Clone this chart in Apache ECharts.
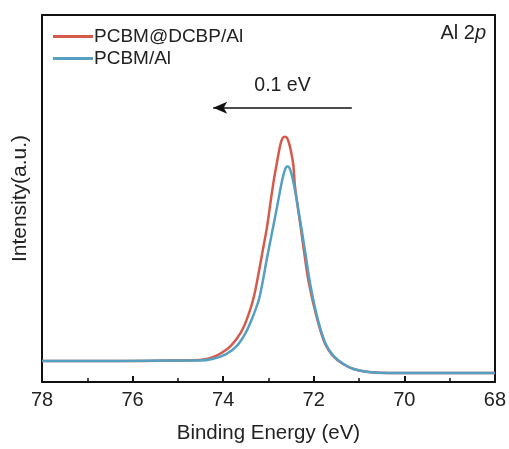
<!DOCTYPE html>
<html>
<head>
<meta charset="utf-8">
<script src="https://cdn.jsdelivr.net/npm/echarts@6/dist/echarts.min.js"></script>
<style>html,body{margin:0;padding:0;background:#fff}#c{width:509px;height:449px}</style>
</head>
<body>
<div id="c"></div>
<script>
var xTicks = [78, 76, 74, 72, 70, 68];
var seriesNames = ['PCBM@DCBP/Al', 'PCBM/Al'];
var redEnergy = [78.000,76.286,75.187,74.527,74.242,74.022,73.824,73.604,73.451,73.319,73.209,73.121,73.033,72.945,72.879,72.813,72.769,72.725,72.681,72.637,72.593,72.549,72.505,72.451,72.418,72.363,72.297,72.220,72.110,71.923,71.747,71.571,71.352,71.121,70.791,70.352,68.000];
var redValue  = [5.71,5.71,5.84,5.98,6.66,8.02,9.92,13.59,17.93,23.37,30.16,36.14,42.12,49.73,55.16,59.78,62.77,65.22,66.58,66.85,66.58,65.22,63.04,59.24,53.80,48.64,42.93,36.14,27.17,17.12,10.33,7.07,4.89,3.53,2.72,2.45,2.45];
var blueEnergy = [78.000,76.286,75.187,74.527,74.242,73.934,73.692,73.495,73.341,73.209,73.121,73.033,72.923,72.835,72.769,72.703,72.648,72.593,72.549,72.505,72.462,72.396,72.330,72.264,72.187,72.077,71.912,71.736,71.560,71.341,71.121,70.791,70.352,68.000];
var blueValue  = [5.71,5.71,5.84,5.84,6.25,7.61,9.92,13.59,17.93,22.55,27.72,33.70,40.60,46.10,50.40,54.62,57.34,58.70,58.56,57.34,55.16,51.09,46.20,41.30,35.33,26.63,17.12,10.33,7.07,4.89,3.53,2.72,2.45,2.45];
var shiftArrow = {from: 71.16, to: 74.22, level: 74.7, label: '0.1 eV'};

function pairs(a, b) { return a.map(function (v, i) { return [v, b[i]]; }); }

var FONT = 'Liberation Sans, Arial, sans-serif';
var chart = echarts.init(document.getElementById('c'));
chart.setOption({
  animation: false,
  grid: {left: 42, right: 12, top: 15, bottom: 66},
  legend: {
    orient: 'vertical', left: 48, top: 22, itemWidth: 40, itemHeight: 3, itemGap: 3,
    icon: 'rect', textStyle: {fontFamily: FONT, fontSize: 19, color: '#222', padding: [0,0,0,-4]},
    data: seriesNames
  },
  xAxis: [{
    type: 'value', inverse: true, min: 68, max: 78, interval: 2,
    name: 'Binding Energy (eV)', nameLocation: 'middle', nameGap: 41,
    nameTextStyle: {fontFamily: FONT, fontSize: 20.5, color: '#222'},
    axisLine: {lineStyle: {color: '#111', width: 2}},
    axisTick: {inside: true, length: 6, lineStyle: {color: '#111', width: 2}},
    minorTick: {show: true, splitNumber: 2, length: 4, lineStyle: {color: '#111', width: 1.5}},
    axisLabel: {fontFamily: FONT, fontSize: 20, color: '#222', margin: 8,
      formatter: function (v) { return xTicks.indexOf(v) >= 0 ? String(v) : ''; }},
    splitLine: {show: false}
  }, {
    type: 'value', inverse: true, min: 68, max: 78, position: 'top',
    axisLine: {show: true, onZero: false, lineStyle: {color: '#111', width: 2}},
    axisTick: {show: false}, axisLabel: {show: false}, splitLine: {show: false}
  }],
  yAxis: [{
    type: 'value', min: 0, max: 100,
    name: 'Intensity(a.u.)', nameLocation: 'middle', nameGap: 11,
    nameTextStyle: {fontFamily: FONT, fontSize: 21, color: '#222'},
    axisLine: {show: true, lineStyle: {color: '#111', width: 2}},
    axisTick: {show: false}, axisLabel: {show: false}, splitLine: {show: false}
  }, {
    type: 'value', min: 0, max: 100, position: 'right',
    axisLine: {show: true, onZero: false, lineStyle: {color: '#111', width: 2}},
    axisTick: {show: false}, axisLabel: {show: false}, splitLine: {show: false}
  }],
  series: [{
    name: seriesNames[0], type: 'line', data: pairs(redEnergy, redValue),
    showSymbol: false, symbol: 'none', smooth: 0.3,
    lineStyle: {color: '#d65a4b', width: 2.5}, itemStyle: {color: '#d65a4b'},
    z: 2
  }, {
    name: seriesNames[1], type: 'line', data: pairs(blueEnergy, blueValue),
    showSymbol: false, symbol: 'none', smooth: 0.3,
    lineStyle: {color: '#55a0c2', width: 2.5}, itemStyle: {color: '#55a0c2'},
    z: 3,
    markLine: {
      silent: true, symbol: ['arrow', 'none'], symbolSize: [9, 14],
      lineStyle: {color: '#111', width: 1.5, type: 'solid'},
      label: {show: true, position: 'middle', formatter: shiftArrow.label, distance: 12,
        fontFamily: FONT, fontSize: 19.5, color: '#222'},
      data: [[{coord: [shiftArrow.to, shiftArrow.level]}, {coord: [shiftArrow.from, shiftArrow.level]}]]
    }
  }],
  graphic: [{
    type: 'text', right: 23, top: 23,
    style: {
      text: '{a|Al 2}{b|p}', fill: '#222',
      rich: {a: {fontFamily: FONT, fontSize: 20, fill: '#222'}, b: {fontFamily: FONT, fontSize: 20, fontStyle: 'italic', fill: '#222'}}
    }
  }]
});
</script>
</body>
</html>
